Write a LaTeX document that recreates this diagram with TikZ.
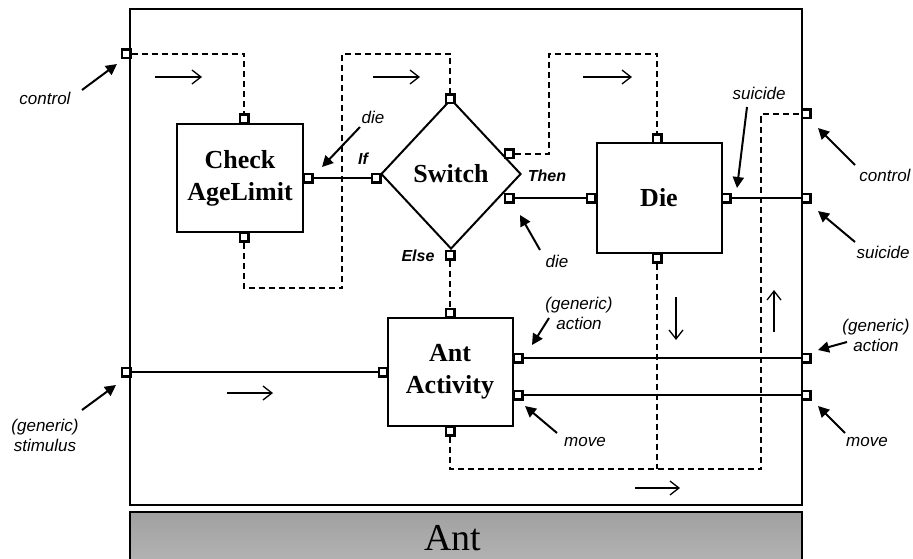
\documentclass[tikz,border=0pt]{standalone}
\usepackage{fontspec}
\setmainfont{Liberation Serif}
\setsansfont{Liberation Sans}
\usetikzlibrary{arrows.meta,shapes.geometric}
\definecolor{barfilltop}{gray}{0.63}
\definecolor{barfillbot}{gray}{0.71}

\begin{document}
\begin{tikzpicture}[x=1pt,y=-1pt,
  block/.style={draw,line width=2pt,fill=white,inner sep=0,align=center,
    font=\fontsize{26}{32}\selectfont\bfseries},
  port/.style={draw,line width=2.5pt,fill=white,rectangle,minimum size=8.5pt,inner sep=0},
  wire/.style={line width=1.8pt},
  ctrl/.style={line width=1.8pt,dash pattern=on 6pt off 4pt},
  lbl/.style={font=\fontsize{17}{20}\selectfont\sffamily\itshape,align=center,inner sep=0},
  tag/.style={font=\fontsize{16}{20}\selectfont\sffamily\bfseries\itshape,inner sep=0},
  pointer/.style={line width=2pt,-{Triangle[length=11pt,width=11pt]}},
  flow/.style={line width=1.3pt,-{Straight Barb[length=9pt,width=14pt]}}
]
\useasboundingbox (0,0) rectangle (913,559);

% outer component frame and its title bar
\node[draw,line width=2.6pt,minimum width=672pt,minimum height=496pt,inner sep=0] (frame) at (466,257) {};
\node[draw,line width=2.6pt,minimum width=672pt,minimum height=56pt,inner sep=0,
      top color=barfilltop,bottom color=barfillbot] (bar) at (466,540) {};
\node[anchor=base,inner sep=0,font=\fontsize{38}{40}\selectfont] (antname) at (453,550) {Ant};

% inner components
\node[block,minimum width=126pt,minimum height=108pt] (chk) at (240,178) {Check\\AgeLimit};
\node[block,diamond,aspect=0.93,minimum width=140pt,minimum height=150pt] (sw) at (451,174) {Switch};
\node[block,minimum width=125pt,minimum height=109pt] (die) at (659,198) {Die};
\node[block,minimum width=125pt,minimum height=108pt] (act) at (450,372) {Ant\\Activity};

% ports on the frame
\node[port] (fCtlL) at (126,54) {};
\node[port] (fStim) at (126,372) {};
\node[port] (fCtlR) at (806,114) {};
\node[port] (fSuic) at (806,198) {};
\node[port] (fAct)  at (806,358) {};
\node[port] (fMove) at (806,395) {};

% ports on the components
\node[port] (chkT) at (244,119) {};
\node[port] (chkR) at (308,178) {};
\node[port] (chkB) at (244,237) {};
\node[port] (swT)  at (450,99) {};
\node[port] (swL)  at (376,178) {};
\node[port] (swUR) at (509,154) {};
\node[port] (swLR) at (509,198) {};
\node[port] (swB)  at (450,255) {};
\node[port] (dieT) at (657,139) {};
\node[port] (dieL) at (591,198) {};
\node[port] (dieR) at (726,198) {};
\node[port] (dieB) at (657,258) {};
\node[port] (actT) at (450,313) {};
\node[port] (actL) at (383,372) {};
\node[port] (actR1) at (518,358) {};
\node[port] (actR2) at (518,395) {};
\node[port] (actB) at (450,431) {};

% data connections
\draw[wire] (chkR) -- (swL);
\draw[wire] (swLR) -- (dieL);
\draw[wire] (dieR) -- (fSuic);
\draw[wire] (fStim) -- (actL);
\draw[wire] (actR1) -- (fAct);
\draw[wire] (actR2) -- (fMove);

% control flow
\coordinate (c1) at (342,288);
\coordinate (c2) at (342,54);
\coordinate (c3) at (549,54);
\coordinate (c4) at (761,469);
\coordinate (jn) at (657,469);
\draw[ctrl] (fCtlL.east) -| (chkT.north);
\draw[ctrl] (chkB.south) |- (c1) -- (c2) -| (swT.north);
\draw[ctrl] (swUR.east) -| (c3) -| (dieT.north);
\draw[ctrl] (swB.south) -- (actT.north);
\draw[ctrl] (actB.south) |- (c4) |- (fCtlR.west);
\draw[ctrl] (dieB.south) -- (jn);

% labels
\node[lbl] (lCtlL) at (45,98) {control};
\node[lbl] (lStim) at (45,435) {(generic)\\stimulus};
\node[lbl] (lDie1) at (373,117) {die};
\node[lbl] (lDie2) at (557,261) {die};
\node[lbl] (lSuic1) at (759,93) {suicide};
\node[lbl] (lCtlR) at (885,175) {control};
\node[lbl] (lSuic2) at (883,252) {suicide};
\node[lbl] (lAct1) at (579,313) {(generic)\\action};
\node[lbl] (lAct2) at (876,335) {(generic)\\action};
\node[lbl] (lMove1) at (585,442) {move};
\node[lbl] (lMove2) at (867,442) {move};
\node[tag] (tIf) at (363,159) {If};
\node[tag] (tThen) at (547,176) {Then};
\node[tag] (tElse) at (418,256) {Else};

% pointers from labels to ports
\path (82,90) coordinate (p1t) (117,64) coordinate (p1h)
      (82,410) coordinate (p2t) (116,385) coordinate (p2h)
      (360,127) coordinate (p3t) (322,167) coordinate (p3h)
      (540,250) coordinate (p4t) (520,215) coordinate (p4h)
      (747,107) coordinate (p5t) (737,188) coordinate (p5h)
      (855,165) coordinate (p6t) (818,128) coordinate (p6h)
      (855,242) coordinate (p7t) (818,211) coordinate (p7h)
      (549,318) coordinate (p8t) (532,345) coordinate (p8h)
      (847,342) coordinate (p9t) (818,350) coordinate (p9h)
      (557,433) coordinate (p10t) (525,406) coordinate (p10h)
      (845,433) coordinate (p11t) (818,406) coordinate (p11h);
\foreach \i in {1,...,11} \draw[pointer] (p\i t) -- (p\i h);

% direction of control flow
\path (155,77) coordinate (f1t) (202,77) coordinate (f1h)
      (373,77) coordinate (f2t) (420,77) coordinate (f2h)
      (583,77) coordinate (f3t) (632,77) coordinate (f3h)
      (227,393) coordinate (f4t) (273,393) coordinate (f4h)
      (676,297) coordinate (f5t) (676,340) coordinate (f5h)
      (774,332) coordinate (f6t) (774,290) coordinate (f6h)
      (635,488) coordinate (f7t) (680,488) coordinate (f7h);
\foreach \i in {1,...,7} \draw[flow] (f\i t) -- (f\i h);
\end{tikzpicture}
\end{document}
